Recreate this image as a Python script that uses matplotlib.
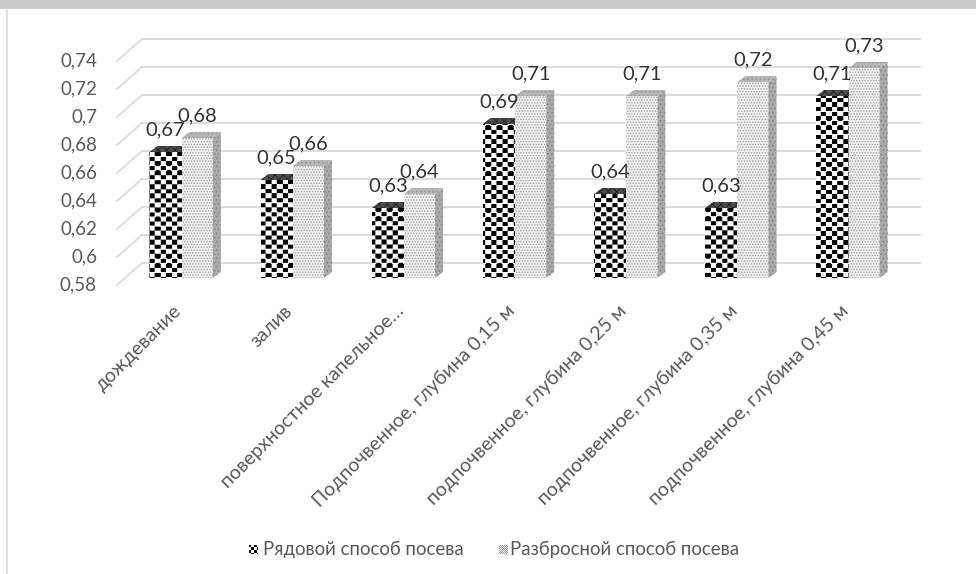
import numpy as np
import matplotlib.pyplot as plt
from matplotlib.patches import Polygon, Rectangle

plt.rcParams['font.family'] = ['Lato', 'DejaVu Sans']
plt.rcParams['hatch.linewidth'] = 0.7

categories = ['дождевание', 'залив', 'поверхностное капельное…',
              'Подпочвенное, глубина 0,15 м', 'подпочвенное, глубина 0,25 м',
              'подпочвенное, глубина 0,35 м', 'подпочвенное, глубина 0,45 м']
row_vals = [0.67, 0.65, 0.63, 0.69, 0.64, 0.63, 0.71]
broad_vals = [0.68, 0.66, 0.64, 0.71, 0.71, 0.72, 0.73]
series_names = ['Рядовой способ посева', 'Разбросной способ посева']
yticks = [0.58, 0.60, 0.62, 0.64, 0.66, 0.68, 0.70, 0.72, 0.74]
ytick_labels = ['0,58', '0,6', '0,62', '0,64', '0,66', '0,68', '0,7', '0,72', '0,74']

W, H = 976, 574
fig = plt.figure(figsize=(W / 100, H / 100), dpi=100)

# frame of the sheet: grey band on top, thin line on the left
fig.patches.append(Rectangle((0, (H - 9) / H), 1, 9 / H, transform=fig.transFigure,
                             facecolor='#cccccc', edgecolor='none'))
fig.patches.append(Rectangle((6 / W, 0), 2 / W, (H - 9) / H, transform=fig.transFigure,
                             facecolor='#e2e2e2', edgecolor='none'))

ax_l, ax_r = 125, 903
ax_top, ax_bot = 54, 278
ax = fig.add_axes([ax_l / W, (H - ax_bot) / H, (ax_r - ax_l) / W, (ax_bot - ax_top) / H])
xmin, xmax = -0.51, 6.49
ymin, ymax = 0.58, 0.74
ax.set_xlim(xmin, xmax)
ax.set_ylim(ymin, ymax)
ax.axis('off')

# pixel -> data units
ux = (xmax - xmin) / (ax_r - ax_l)
uy = (ymax - ymin) / (ax_bot - ax_top)

back = (17, 15)    # offset of the back wall from the bar plane, px
front = (-8, -7)   # offset of the front edge
depth = (8, 6)     # depth of a single column

grid_c = '#d9d9d9'
for v, lab in zip(yticks, ytick_labels):
    ax.plot([xmin + back[0] * ux, xmax + back[0] * ux], [v + back[1] * uy] * 2,
            color=grid_c, lw=1.3, clip_on=False, zorder=1)
    ax.plot([xmin + front[0] * ux, xmin + back[0] * ux],
            [v + front[1] * uy, v + back[1] * uy],
            color=grid_c, lw=1.3, clip_on=False, zorder=1)
    ax.text(xmin + (front[0] - 20) * ux, v + front[1] * uy, lab,
            ha='right', va='center', fontsize=13.5, color='#595959')

# checker pattern for the first series
ph, pw = ax_bot - ax_top, ax_r - ax_l
yy, xx = np.mgrid[0:ph, 0:pw] + 0.5
cw, ch = 5.5, 4.6
field = np.cos(np.pi * xx / cw) * np.cos(np.pi * yy / ch)
checker = (field > 0.03).astype(float)

bw = 0.29
lw_ = 0.28
x = np.arange(len(categories))

dark_bars = ax.bar(x - bw, [v - ymin for v in row_vals], width=bw, bottom=ymin,
                   align='edge', facecolor='white', edgecolor='none', zorder=3)
for bar, v, xi in zip(dark_bars, row_vals, x):
    im = ax.imshow(checker, cmap='gray_r', vmin=0, vmax=1, extent=(xmin, xmax, ymin, ymax),
                   aspect='auto', interpolation='bilinear', zorder=3.5)
    im.set_clip_path(bar)
    x0 = xi - bw
    top = Polygon([(x0, v), (xi, v), (xi + depth[0] * ux, v + depth[1] * uy),
                   (x0 + depth[0] * ux, v + depth[1] * uy)],
                  closed=True, facecolor='#4d4d4d', edgecolor='#262626', lw=0,
                  hatch='xxxx', zorder=3.6, clip_on=False)
    ax.add_patch(top)

light_bars = ax.bar(x, [v - ymin for v in broad_vals], width=lw_, bottom=ymin,
                    align='edge', facecolor='#efefef', edgecolor='#a8a8a8', lw=0,
                    hatch='......', zorder=4)
for v, xi in zip(broad_vals, x):
    xr = xi + lw_
    side = Polygon([(xr, ymin), (xr, v), (xr + depth[0] * ux, v + depth[1] * uy),
                    (xr + depth[0] * ux, ymin + depth[1] * uy)],
                   closed=True, facecolor='#a9a9a9', edgecolor='#8a8a8a', lw=0,
                   hatch='....', zorder=4, clip_on=False)
    ax.add_patch(side)
    top = Polygon([(xi, v), (xr, v), (xr + depth[0] * ux, v + depth[1] * uy),
                   (xi + depth[0] * ux, v + depth[1] * uy)],
                  closed=True, facecolor='#b5b5b5', edgecolor='#999999', lw=0,
                  hatch='....', zorder=4, clip_on=False)
    ax.add_patch(top)

# value labels
for xi, v in zip(x, row_vals):
    ax.text(xi - bw / 2, v + 14 * uy, f'{v:.2f}'.replace('.', ','), ha='center',
            va='bottom', fontsize=14.5, color='#333333', zorder=6, clip_on=False)
for xi, v in zip(x, broad_vals):
    ax.text(xi + lw_ / 2, v + 14 * uy, f'{v:.2f}'.replace('.', ','), ha='center',
            va='bottom', fontsize=14.5, color='#333333', zorder=6, clip_on=False)

# category labels
for xi, lab in zip(x, categories):
    ax.text(xi - 9 * ux, ymin - 24 * uy, lab, rotation=45, rotation_mode='anchor',
            ha='right', va='top', fontsize=14, color='#595959', clip_on=False)

# legend
def icon(px, py, img, cmap):
    a = fig.add_axes([px / W, (H - py - 9) / H, 9 / W, 9 / H])
    a.imshow(img, cmap=cmap, vmin=0, vmax=1, interpolation='bilinear')
    a.axis('off')

iy, ix = np.mgrid[0:9, 0:9] + 0.5
dark_icon = (np.cos(np.pi * ix / 3) * np.cos(np.pi * iy / 3) > 0.0).astype(float)
light_icon = 1 - 0.45 * ((ix.astype(int) + iy.astype(int)) % 2)
icon(249, 545, dark_icon, 'gray_r')
icon(499, 545, light_icon, 'gray')
fig.text(263 / W, 1 - 549 / H, series_names[0], ha='left', va='center',
         fontsize=13.4, color='#595959')
fig.text(510 / W, 1 - 549 / H, series_names[1], ha='left', va='center',
         fontsize=13.4, color='#595959')

fig.savefig('out.png', dpi=100)
